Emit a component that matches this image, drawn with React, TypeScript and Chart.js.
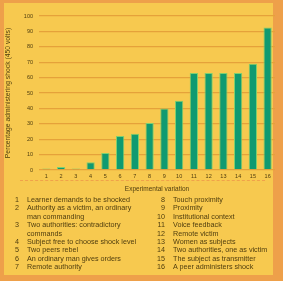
import React, { useEffect, useRef } from "react";
import { Chart, registerables } from "chart.js";

Chart.register(...registerables);

const categories = ["1", "2", "3", "4", "5", "6", "7", "8", "9", "10", "11", "12", "13", "14", "15", "16"];
const obeyingPercent = [1, 2, 1, 5, 11, 22, 23.5, 30.5, 40, 45, 63, 63, 63, 63, 69, 92.5];
const yTicks = [0, 10, 20, 30, 40, 50, 60, 70, 80, 90, 100];
const yTitle = "Percentage administering shock (450 volts)";
const xTitle = "Experimental variation";
const legendLeft = [
  ["1", "Learner demands to be shocked"],
  ["2", "Authority as a victim, an ordinary"],
  ["", "man commanding"],
  ["3", "Two authorities: contradictory"],
  ["", "commands"],
  ["4", "Subject free to choose shock level"],
  ["5", "Two peers rebel"],
  ["6", "An ordinary man gives orders"],
  ["7", "Remote authority"],
];
const legendRight = [
  ["8", "Touch proximity"],
  ["9", "Proximity"],
  ["10", "Institutional context"],
  ["11", "Voice feedback"],
  ["12", "Remote victim"],
  ["13", "Women as subjects"],
  ["14", "Two authorities, one as victim"],
  ["15", "The subject as transmitter"],
  ["16", "A peer administers shock"],
];

const TEXT = "#4f3d0e";
const FONT = "'Liberation Sans', Arial, sans-serif";

export default function App() {
  const ref = useRef<HTMLCanvasElement>(null);
  useEffect(() => {
    if (!ref.current) return;
    const chart = new Chart(ref.current, {
      type: "bar",
      data: {
        labels: categories,
        datasets: [
          {
            data: obeyingPercent,
            backgroundColor: "#0f9a71",
            borderColor: "#7fcf6e",
            borderWidth: 1,
            borderSkipped: "bottom",
            barPercentage: 0.56,
            categoryPercentage: 1,
          },
        ],
      },
      options: {
        animation: false,
        responsive: false,
        maintainAspectRatio: false,
        layout: { padding: { top: 13, right: 2, left: 0, bottom: 0 } },
        plugins: { legend: { display: false }, tooltip: { enabled: false } },
        scales: {
          x: {
            grid: { display: false, drawTicks: false },
            border: { display: false },
            ticks: { font: { size: 5.5, family: FONT }, color: TEXT, padding: 3, maxRotation: 0, autoSkip: false },
            title: { display: true, text: xTitle, font: { size: 6.5, family: FONT }, color: TEXT, padding: { top: 0, bottom: 1 } },
            afterFit: (s: any) => { s.height = 24; },
          },
          y: {
            min: 0,
            max: 100,
            afterBuildTicks: (s: any) => { s.ticks = yTicks.map((v) => ({ value: v })); },
            grid: { color: "#e5a23a", lineWidth: 1.3, drawTicks: false },
            border: { display: false },
            ticks: { font: { size: 5.5, family: FONT }, color: TEXT, padding: 6 },
            title: { display: true, text: yTitle, font: { size: 6.8, family: FONT }, color: TEXT, padding: 0 },
            afterFit: (s: any) => { s.width = 35; },
          },
        },
      },
    });
    return () => chart.destroy();
  }, []);

  const row = (items: string[][], numLeft: number, textLeft: number) =>
    items.map(([n, t], i) => (
      <div key={i} style={{ position: "absolute", top: i * 8.4, left: 0, whiteSpace: "nowrap", height: 8.4, lineHeight: "8.4px" }}>
        <span style={{ position: "absolute", left: numLeft, width: 8, textAlign: "right" }}>{n}</span>
        <span style={{ position: "absolute", left: textLeft }}>{t}</span>
      </div>
    ));

  return (
    <div style={{ position: "fixed", left: 0, top: 0, width: 283, height: 281, background: "#eea04a", fontFamily: FONT }}>
      <div style={{ position: "absolute", left: 4, top: 3, width: 269, height: 272, background: "#f7c94f" }} />
      <canvas ref={ref} width={273} height={191} style={{ position: "absolute", left: 4, top: 3, width: 273, height: 191 }} />
      <div style={{ position: "absolute", left: 20, top: 180, width: 245, borderTop: "1px dashed #f0a24a" }} />
      <div style={{ position: "absolute", left: 0, top: 196, width: 283, height: 80, fontSize: 7.2, color: TEXT }}>
        {row(legendLeft, 11, 27)}
        {row(legendRight, 157, 173)}
      </div>
    </div>
  );
}
